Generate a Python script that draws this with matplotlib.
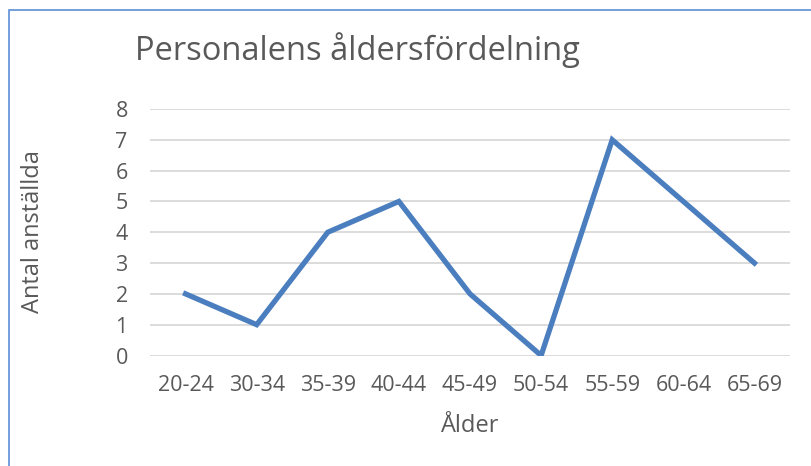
import matplotlib.pyplot as plt
from matplotlib.patches import Rectangle

age_groups = ['20-24', '30-34', '35-39', '40-44', '45-49', '50-54', '55-59', '60-64', '65-69']
employees = [2, 1, 4, 5, 2, 0, 7, 5, 3]

plt.rcParams['font.family'] = ['Open Sans', 'DejaVu Sans']
grey = '#595959'

fig = plt.figure(figsize=(8.12, 4.66), dpi=100)
W, H = 812, 466
ax = fig.add_axes([150 / W, 1 - 355.5 / H, (790 - 150) / W, (355.5 - 109) / H])

x = range(len(age_groups))
ax.plot(x, employees, color='#4A7EBF', linewidth=3.8, solid_joinstyle='miter')

ax.set_xlim(-0.5, len(age_groups) - 0.5)
ax.set_ylim(0, 8)
ax.set_yticks(range(0, 9))
ax.set_xticks(list(x))
ax.set_xticklabels(age_groups)
ax.grid(axis='y', color='#D9D9D9', linewidth=1.3)
ax.set_axisbelow(True)
for s in ax.spines.values():
    s.set_visible(False)
ax.tick_params(length=0, labelsize=15.5, labelcolor=grey)
ax.tick_params(axis='y', pad=16)
ax.tick_params(axis='x', pad=14)

fig.text(470 / W, 1 - 426 / H, 'Ålder', fontsize=17, color=grey,
         ha='center', va='center')
fig.text(33 / W, 1 - 232 / H, 'Antal anställda', rotation=90, fontsize=17,
         color=grey, ha='center', va='center')
fig.text(135 / W, 1 - 50 / H, 'Personalens åldersfördelning', fontsize=23.5,
         color=grey, ha='left', va='center')

fig.patches.append(Rectangle((9 / W, -0.05), 1.1, 1 - 10 / H + 0.05,
                             transform=fig.transFigure, fill=False,
                             edgecolor='#5B8FD6', linewidth=1.2))

fig.savefig('out.png', dpi=100)
